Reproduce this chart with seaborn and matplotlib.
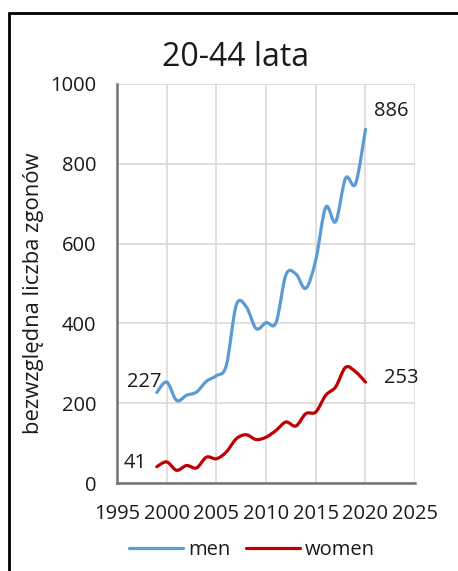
import numpy as np
import pandas as pd
import seaborn as sns
import matplotlib.pyplot as plt
from matplotlib.path import Path
from matplotlib.patches import PathPatch
from matplotlib.lines import Line2D

# Data
years = list(range(1999, 2021))
men = [227, 253, 207, 220, 228, 255, 269, 295, 446, 442, 387, 402,
       402, 522, 524, 488, 559, 691, 655, 764, 750, 886]
women = [41, 53, 32, 44, 38, 65, 61, 78, 111, 121, 109, 115,
         132, 153, 143, 174, 178, 220, 241, 290, 279, 253]
series_names = ["men", "women"]
colors = {"men": "#5B9BD5", "women": "#C00000"}

df = pd.DataFrame({
    "year": years * 2,
    "value": men + women,
    "sex": ["men"] * len(years) + ["women"] * len(years),
})


def smooth_path(x, y):
    # Excel-style smoothed line: Bezier segments with Catmull-Rom controls
    pts = np.column_stack([x, y]).astype(float)
    n = len(pts)
    verts = [pts[0]]
    codes = [Path.MOVETO]
    for i in range(n - 1):
        p0 = pts[i - 1] if i > 0 else pts[i]
        p1 = pts[i]
        p2 = pts[i + 1]
        p3 = pts[i + 2] if i + 2 < n else pts[i + 1]
        c1 = p1 + (p2 - p0) / 6.0
        c2 = p2 - (p3 - p1) / 6.0
        verts += [c1, c2, p2]
        codes += [Path.CURVE4] * 3
    return Path(verts, codes)


sns.set_style("white")
plt.rcParams["font.family"] = ["Open Sans", "DejaVu Sans"]
txt = "#1a1a1a"
fs = 14.5

fig = plt.figure(figsize=(4.58, 5.71), dpi=100)
ax = fig.add_axes([0.2555, 0.154, 0.651, 0.699])

sns.lineplot(data=df, x="year", y="value", hue="sex", palette=colors,
             linewidth=2.3, ax=ax, legend=False)
for line in ax.get_lines():
    line.set_visible(False)

for name, vals in zip(series_names, [men, women]):
    patch = PathPatch(smooth_path(years, vals), facecolor="none",
                      edgecolor=colors[name], linewidth=2.3,
                      capstyle="round", joinstyle="round", zorder=3)
    ax.add_patch(patch)

ax.set_xlim(1995, 2025)
ax.set_ylim(0, 1000)
ax.set_xticks(range(1995, 2026, 5))
ax.set_yticks(range(0, 1001, 200))
ax.grid(True, color="#d9d9d9", linewidth=1.2)
ax.set_axisbelow(True)
for side in ["top", "right"]:
    ax.spines[side].set_visible(False)
for side in ["left", "bottom"]:
    ax.spines[side].set_color("#767171")
    ax.spines[side].set_linewidth(1.8)
ax.tick_params(axis="y", colors="#767171", length=5, width=1.5,
               labelsize=fs, labelcolor=txt, direction="out", pad=10)
ax.tick_params(axis="x", colors="#767171", direction="inout", length=8,
               width=1.5, labelsize=fs, labelcolor=txt, pad=11)
ax.set_xlabel("")
ax.set_ylabel("")
fig.text(34 / 458, 1 - 293 / 571, "bezwzględna liczba zgonów", rotation=90,
         ha="center", va="center", fontsize=15.8, color=txt)
fig.text(236 / 458, 1 - 58 / 571, "20-44 lata", ha="center", va="center",
         fontsize=23, color=txt)

# Data labels at first and last points
lab_kw = dict(fontsize=fs, color=txt, va="center")
ax.text(1999.45, 254, str(men[0]), ha="right", **lab_kw)
ax.text(1998.0, 50, str(women[0]), ha="right", **lab_kw)
ax.text(2020.85, 933, str(men[-1]), ha="left", **lab_kw)
ax.text(2021.85, 264, str(women[-1]), ha="left", **lab_kw)

handles = [Line2D([], [], color=colors[n], linewidth=2.3) for n in series_names]
fig.legend(handles, series_names, loc="center", bbox_to_anchor=(252 / 458, 1 - 550 / 571),
           ncol=2, frameon=False, fontsize=fs, handlelength=2.7,
           handletextpad=0.25, columnspacing=0.75, labelcolor=txt,
           borderpad=0, borderaxespad=0)

# Chart-area frame (only left and top edges visible in the crop)
fig.add_artist(Line2D([9 / 458, 9 / 458], [0, 1 - 13 / 571],
                      transform=fig.transFigure, color="black", linewidth=2))
fig.add_artist(Line2D([9 / 458, 1], [1 - 13 / 571, 1 - 13 / 571],
                      transform=fig.transFigure, color="black", linewidth=2))

fig.savefig("out.png", dpi=100)
